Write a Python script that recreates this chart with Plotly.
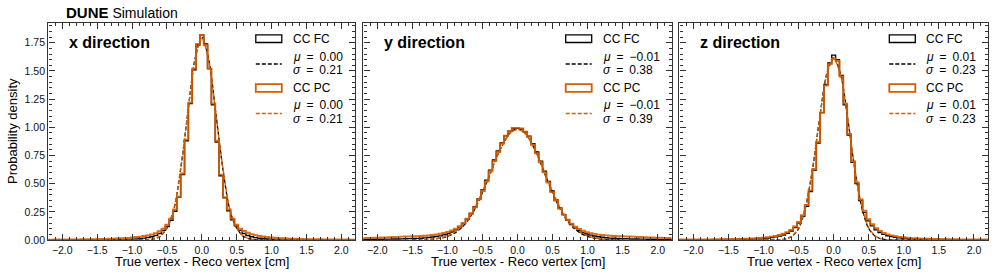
import numpy as np
import plotly.graph_objects as go

# ---------------- data ----------------
BIN_WIDTH = 0.055
N_BINS = 81  # bins centred on 0, covering about -2.2 .. 2.2 cm

PANEL_TITLES = ["x direction", "y direction", "z direction"]
SERIES_NAMES = ["CC FC", "CC PC"]
FIT_MU = [["0.00", "0.00"], ["−0.01", "−0.01"], ["0.01", "0.01"]]
FIT_SIGMA = [["0.21", "0.21"], ["0.38", "0.39"], ["0.23", "0.23"]]

# histogram densities, left -> right
X_FC = [0.001, 0.001, 0.0011, 0.0012, 0.0013, 0.0014, 0.0015, 0.0016, 0.0018, 0.002,
        0.002, 0.002, 0.0025, 0.0025, 0.003, 0.003, 0.0035, 0.004, 0.0045, 0.005,
        0.006, 0.007, 0.008, 0.010, 0.013, 0.017, 0.022, 0.029, 0.04, 0.058,
        0.085, 0.12, 0.175, 0.255, 0.38, 0.58, 0.88, 1.21, 1.51, 1.73,
        1.82,
        1.74, 1.52, 1.20, 0.87, 0.57, 0.375, 0.26, 0.18, 0.125, 0.085,
        0.058, 0.04, 0.029, 0.021, 0.016, 0.013, 0.010, 0.008, 0.007, 0.006,
        0.005, 0.0045, 0.004, 0.0035, 0.003, 0.003, 0.0025, 0.0025, 0.002, 0.002,
        0.002, 0.0018, 0.0016, 0.0015, 0.0014, 0.0013, 0.0012, 0.0011, 0.001, 0.001]
X_PC = [0.0034, 0.0036, 0.0038, 0.004, 0.0042, 0.0045, 0.0048, 0.005, 0.0055, 0.006,
        0.0065, 0.007, 0.0075, 0.008, 0.009, 0.010, 0.011, 0.012, 0.013, 0.015,
        0.017, 0.019, 0.022, 0.026, 0.030, 0.035, 0.041, 0.049, 0.06, 0.078,
        0.10, 0.135, 0.19, 0.27, 0.385, 0.59, 0.89, 1.22, 1.52, 1.74,
        1.82,
        1.73, 1.52, 1.21, 0.88, 0.58, 0.38, 0.27, 0.19, 0.135, 0.10,
        0.08, 0.064, 0.052, 0.043, 0.036, 0.031, 0.027, 0.023, 0.020, 0.017,
        0.015, 0.013, 0.012, 0.011, 0.010, 0.009, 0.008, 0.0075, 0.007, 0.0065,
        0.006, 0.0055, 0.005, 0.0048, 0.0045, 0.0042, 0.004, 0.0038, 0.0036, 0.0034]
Y_FC = [0.0052, 0.0055, 0.0058, 0.006, 0.0065, 0.007, 0.0075, 0.008, 0.0085, 0.009,
        0.010, 0.011, 0.012, 0.013, 0.014, 0.016, 0.019, 0.022, 0.026, 0.031,
        0.037, 0.046, 0.057, 0.071, 0.09, 0.114, 0.145, 0.185, 0.235, 0.295,
        0.365, 0.445, 0.53, 0.62, 0.71, 0.79, 0.86, 0.925, 0.965, 0.99,
        0.99,
        0.985, 0.96, 0.92, 0.855, 0.78, 0.70, 0.61, 0.52, 0.435, 0.355,
        0.285, 0.225, 0.175, 0.138, 0.108, 0.085, 0.067, 0.053, 0.043, 0.035,
        0.029, 0.024, 0.020, 0.017, 0.015, 0.013, 0.012, 0.011, 0.010, 0.009,
        0.0085, 0.008, 0.0075, 0.007, 0.0065, 0.006, 0.0058, 0.0055, 0.0052, 0.005]
Y_PC = [0.017, 0.018, 0.019, 0.020, 0.021, 0.022, 0.023, 0.025, 0.026, 0.028,
        0.030, 0.031, 0.032, 0.033, 0.034, 0.036, 0.038, 0.041, 0.045, 0.049,
        0.055, 0.062, 0.072, 0.084, 0.10, 0.123, 0.152, 0.19, 0.235, 0.29,
        0.36, 0.435, 0.52, 0.61, 0.70, 0.78, 0.855, 0.925, 0.965, 0.995,
        0.995,
        0.99, 0.96, 0.915, 0.845, 0.77, 0.69, 0.60, 0.51, 0.425, 0.35,
        0.28, 0.225, 0.18, 0.145, 0.118, 0.097, 0.082, 0.070, 0.061, 0.054,
        0.048, 0.044, 0.041, 0.038, 0.036, 0.034, 0.033, 0.032, 0.031, 0.030,
        0.028, 0.026, 0.025, 0.023, 0.022, 0.021, 0.020, 0.019, 0.018, 0.017]
Z_FC = [0.0017, 0.0018, 0.0019, 0.002, 0.0022, 0.0024, 0.0026, 0.0028, 0.003, 0.0032,
        0.0035, 0.0038, 0.004, 0.0045, 0.005, 0.0055, 0.006, 0.0065, 0.0075, 0.0085,
        0.010, 0.012, 0.015, 0.018, 0.022, 0.028, 0.035, 0.045, 0.06, 0.08,
        0.11, 0.15, 0.21, 0.30, 0.43, 0.62, 0.86, 1.13, 1.38, 1.57,
        1.64,
        1.60, 1.46, 1.20, 0.93, 0.69, 0.50, 0.35, 0.245, 0.17, 0.125,
        0.09, 0.066, 0.05, 0.038, 0.03, 0.024, 0.019, 0.015, 0.012, 0.010,
        0.0085, 0.0075, 0.0065, 0.006, 0.0055, 0.005, 0.0045, 0.004, 0.0038, 0.0035,
        0.0032, 0.003, 0.0028, 0.0026, 0.0024, 0.0022, 0.002, 0.0019, 0.0018, 0.0017]
Z_PC = [0.004, 0.0042, 0.0044, 0.0046, 0.0048, 0.005, 0.0052, 0.0055, 0.0058, 0.006,
        0.0065, 0.007, 0.0075, 0.008, 0.0085, 0.009, 0.010, 0.011, 0.012, 0.014,
        0.016, 0.018, 0.021, 0.025, 0.03, 0.036, 0.044, 0.055, 0.07, 0.09,
        0.12, 0.16, 0.22, 0.31, 0.44, 0.63, 0.87, 1.13, 1.37, 1.56,
        1.61,
        1.59, 1.45, 1.21, 0.94, 0.70, 0.51, 0.36, 0.26, 0.185, 0.14,
        0.105, 0.08, 0.063, 0.05, 0.041, 0.034, 0.028, 0.024, 0.02, 0.017,
        0.015, 0.013, 0.012, 0.011, 0.010, 0.009, 0.0085, 0.008, 0.0075, 0.007,
        0.0065, 0.006, 0.0058, 0.0055, 0.0052, 0.005, 0.0048, 0.0046, 0.0044, 0.0042]

# dashed fit curves, sampled every 0.1 cm
FIT_X = [-1.5, -1.4, -1.3, -1.2, -1.1, -1.0, -0.9, -0.8, -0.7, -0.6, -0.5, -0.4, -0.3, -0.2, -0.1,
         0.0, 0.1, 0.2, 0.3, 0.4, 0.5, 0.6, 0.7, 0.8, 0.9, 1.0, 1.1, 1.2, 1.3, 1.4, 1.5]
X_FC_FIT = [0, 0, 0, 0, 0, 0, 0, 0.0015, 0.008, 0.03, 0.105, 0.27, 0.64, 1.13, 1.60,
            1.80, 1.60, 1.13, 0.64, 0.27, 0.105, 0.03, 0.008, 0.0015, 0, 0, 0, 0, 0, 0, 0]
X_PC_FIT = [0, 0, 0, 0, 0, 0, 0, 0.0015, 0.008, 0.032, 0.11, 0.28, 0.65, 1.13, 1.59,
            1.79, 1.59, 1.13, 0.65, 0.28, 0.11, 0.032, 0.008, 0.0015, 0, 0, 0, 0, 0, 0, 0]
Y_FC_FIT = [0, 0.001, 0.003, 0.007, 0.016, 0.032, 0.06, 0.108, 0.18, 0.285, 0.42, 0.57, 0.73, 0.86, 0.955,
            0.99, 0.955, 0.86, 0.73, 0.57, 0.42, 0.285, 0.18, 0.108, 0.06, 0.032, 0.016, 0.007, 0.003, 0.001, 0]
Y_PC_FIT = [0, 0.002, 0.004, 0.009, 0.018, 0.036, 0.068, 0.12, 0.19, 0.30, 0.43, 0.58, 0.73, 0.86, 0.95,
            0.98, 0.95, 0.86, 0.73, 0.58, 0.43, 0.30, 0.19, 0.12, 0.068, 0.036, 0.018, 0.009, 0.004, 0.002, 0]
Z_FC_FIT = [0, 0, 0, 0, 0, 0, 0, 0.001, 0.007, 0.03, 0.10, 0.29, 0.63, 1.08, 1.47,
            1.62, 1.47, 1.08, 0.63, 0.29, 0.10, 0.03, 0.007, 0.001, 0, 0, 0, 0, 0, 0, 0]
Z_PC_FIT = [0, 0, 0, 0, 0, 0, 0, 0.0015, 0.008, 0.032, 0.11, 0.30, 0.64, 1.08, 1.46,
            1.61, 1.46, 1.08, 0.64, 0.30, 0.11, 0.032, 0.008, 0.0015, 0, 0, 0, 0, 0, 0, 0]

HISTS = [(X_FC, X_PC), (Y_FC, Y_PC), (Z_FC, Z_PC)]
FITS = [(X_FC_FIT, X_PC_FIT), (Y_FC_FIT, Y_PC_FIT), (Z_FC_FIT, Z_PC_FIT)]
for pair in HISTS:
    for h in pair:
        assert len(h) == N_BINS, len(h)
for pair in FITS:
    for f in pair:
        assert len(f) == len(FIT_X)

# ---------------- styling ----------------
W, H = 996, 277
ML, MR, MT, MB = 48, 8, 23, 37
PW, PH = W - ML - MR, H - MT - MB
FONT = "Liberation Sans"
FRAME = "#333333"
COLORS = ["#000000", "#D55E00"]
X_RANGE = [-2.2, 2.2]
Y_RANGE = [0, 1.925]

# panel edges in page pixels
PANEL_PX = [(48.3, 355.3), (363.3, 671.7), (679.3, 988.3)]
# left edge of the legend texts (offset from panel right edge, px)
LEG_TEXT_OFF = [64.5, 71.0, 64.0]


def pxx(x):
    return (x - ML) / PW


def pxy(y):
    return (H - MB - y) / PH


edges = (np.arange(N_BINS + 1) - N_BINS / 2.0) * BIN_WIDTH

fig = go.Figure()
for i in range(3):
    xa = "x" if i == 0 else f"x{i+1}"
    ya = "y" if i == 0 else f"y{i+1}"
    for j in range(2):
        h = HISTS[i][j]
        fig.add_trace(go.Scatter(
            x=edges, y=list(h) + [h[-1]], mode="lines",
            line=dict(color=COLORS[j], width=1.4 if j == 0 else 1.9, shape="hv"),
            opacity=1.0 if j == 0 else 0.9,
            xaxis=xa, yaxis=ya, showlegend=False, hoverinfo="skip"))
        fig.add_trace(go.Scatter(
            x=FIT_X, y=FITS[i][j], mode="lines",
            line=dict(color=COLORS[j], width=1.3, dash="4px,2px", shape="spline", smoothing=0.8),
            xaxis=xa, yaxis=ya, showlegend=False, hoverinfo="skip"))

axis_common = dict(
    showline=True, linecolor=FRAME, linewidth=1.4, mirror="ticks",
    ticks="inside", ticklen=6, tickwidth=1.1, tickcolor=FRAME,
    showgrid=False, zeroline=False,
    tickfont=dict(family=FONT, size=10.5, color="#111"),
)

layout = dict(
    width=W, height=H, margin=dict(l=ML, r=MR, t=MT, b=MB),
    paper_bgcolor="white", plot_bgcolor="white",
    font=dict(family=FONT, color="#111"),
    showlegend=False,
)
for i in range(3):
    sfx = "" if i == 0 else str(i + 1)
    l, r = PANEL_PX[i]
    layout["xaxis" + sfx] = dict(
        axis_common, domain=[max(0.0, pxx(l)), min(1.0, pxx(r))], range=X_RANGE,
        anchor="y" + sfx, tick0=0, dtick=0.5, tickformat=".1f",
        minor=dict(ticks="inside", ticklen=3, tickwidth=1, tickcolor=FRAME, dtick=0.1, tick0=0, showgrid=False),
    )
    layout["yaxis" + sfx] = dict(
        axis_common, domain=[0, 1], range=Y_RANGE, anchor="x" + sfx,
        tick0=0, dtick=0.25, tickformat=".2f", showticklabels=(i == 0),
        minor=dict(ticks="inside", ticklen=3, tickwidth=1, tickcolor=FRAME, dtick=0.05, tick0=0, showgrid=False),
    )
    if i > 0:
        layout["yaxis" + sfx]["matches"] = "y"
fig.update_layout(**layout)

annotations = []
shapes = []
# top-left label
annotations.append(dict(
    x=pxx(64), y=pxy(13), xref="paper", yref="paper", xanchor="left", yanchor="middle",
    text="<b style='font-size:15px'>DUNE</b> Simulation", showarrow=False,
    font=dict(family=FONT, size=14, color="#000")))
# y title
annotations.append(dict(
    x=pxx(12), y=pxy(131), xref="paper", yref="paper", xanchor="center", yanchor="middle",
    text="Probability density", textangle=-90, showarrow=False,
    font=dict(family=FONT, size=13, color="#000")))

EQ = "\u2002=\u2002"
for i in range(3):
    l, r = PANEL_PX[i]
    # x title
    annotations.append(dict(
        x=pxx((l + r) / 2.0), y=pxy(261.5), xref="paper", yref="paper",
        xanchor="center", yanchor="middle", text="True vertex - Reco vertex [cm]",
        showarrow=False, font=dict(family=FONT, size=13, color="#000")))
    # panel title
    annotations.append(dict(
        x=pxx(l + 18.5), y=pxy(42.5), xref="paper", yref="paper",
        xanchor="left", yanchor="middle", text="<b>" + PANEL_TITLES[i] + "</b>",
        showarrow=False, font=dict(family=FONT, size=16, color="#000")))
    # legend
    tx = r - LEG_TEXT_OFF[i]
    box_y = [38.7, 88.0]
    mu_y = [56.8, 105.3]
    sg_y = [70.3, 119.0]
    dash_y = [64.0, 113.5]
    for j in range(2):
        shapes.append(dict(
            type="rect", xref="paper", yref="paper",
            x0=pxx(tx - 35), x1=pxx(tx - 9),
            y0=pxy(box_y[j] - 3.8), y1=pxy(box_y[j] + 3.8),
            line=dict(color=COLORS[j], width=1.3 if j == 0 else 1.8), fillcolor="rgba(0,0,0,0)"))
        shapes.append(dict(
            type="line", xref="paper", yref="paper",
            x0=pxx(tx - 35), x1=pxx(tx - 9), y0=pxy(dash_y[j]), y1=pxy(dash_y[j]),
            line=dict(color=COLORS[j], width=1.4, dash="4px,2px")))
        annotations.append(dict(
            x=pxx(tx), y=pxy(box_y[j]), xref="paper", yref="paper",
            xanchor="left", yanchor="middle", text=SERIES_NAMES[j], showarrow=False,
            font=dict(family=FONT, size=12, color="#000")))
        annotations.append(dict(
            x=pxx(tx), y=pxy(mu_y[j]), xref="paper", yref="paper",
            xanchor="left", yanchor="middle", text="<i>μ</i>" + EQ + FIT_MU[i][j], showarrow=False,
            font=dict(family=FONT, size=12, color="#000")))
        annotations.append(dict(
            x=pxx(tx), y=pxy(sg_y[j]), xref="paper", yref="paper",
            xanchor="left", yanchor="middle", text="<i>σ</i>" + EQ + FIT_SIGMA[i][j], showarrow=False,
            font=dict(family=FONT, size=12, color="#000")))

fig.update_layout(annotations=annotations, shapes=shapes)
# remove the browser's default 8px page margin so the figure fills the window exactly,
# and hide the interactive mode bar
fig.write_html("out.html", config={"displayModeBar": False},
               post_script="document.body.style.margin='0px';")
